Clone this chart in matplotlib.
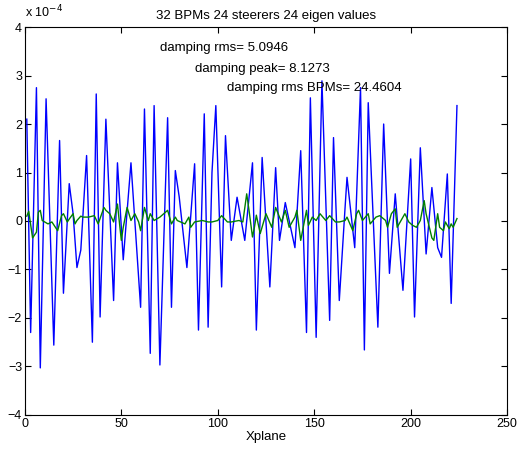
import matplotlib
matplotlib.use('Agg')
import matplotlib.pyplot as plt

plt.rcParams['font.family'] = ['Liberation Sans', 'DejaVu Sans']

# blue trace: BPM index and orbit (units of 1e-4)
blue_x = [1, 3, 6, 8, 11, 15, 18, 20, 23, 25, 27, 29, 32, 35, 37, 39, 42, 46, 48, 51,
          55, 60, 62, 65, 67, 70, 74, 76, 78, 80, 84, 88, 90, 93, 95, 97, 99, 102, 104, 107,
          110, 114, 118, 120, 123, 127, 130, 132, 135, 140, 143, 146, 148, 151, 154, 158, 160, 163, 166, 167,
          171, 174, 176, 178, 183, 186, 189, 192, 196, 200, 202, 205, 208, 211, 214, 216, 219, 221, 224]
blue_y = [2.1, -2.3, 2.75, -3.03, 2.52, -2.56, 1.66, -1.49, 0.77, 0.15, -0.96, -0.6, 1.35, -2.5, 2.62, -1.98, 2.1, -1.64, 1.2, -0.8,
          1.2, -1.78, 2.31, -2.73, 2.38, -2.97, 2.13, -1.78, 1.04, 0.5, -0.96, 1.18, -2.25, 2.21, -2.19, 1.0, 2.38, -1.36, 1.76, -0.4,
          0.49, -0.4, 1.2, -2.25, 1.31, -1.36, 1.1, -0.4, 0.38, -0.55, 1.45, -2.3, 2.54, -2.4, 2.89, -2.05, 1.72, -1.64, 0.28, 0.9,
          -0.55, 2.75, -2.66, 2.44, -2.19, 2.0, -1.08, 0.56, -1.43, 1.28, -1.98, 1.51, -0.68, 0.69, -0.55, -0.75, 0.97, -1.7, 2.38]

# green trace: corrected orbit
green_x = [1, 2, 4, 6, 7, 8, 9, 12, 14, 17, 19, 20, 22, 23, 25, 26, 27, 29, 30, 33,
           36, 38, 41, 42, 44, 46, 48, 50, 51, 53, 55, 57, 59, 60, 62, 64, 65, 67, 70, 74,
           76, 78, 79, 83, 85, 86, 88, 92, 95, 97, 100, 102, 105, 107, 111, 113, 115, 116, 118, 119,
           120, 122, 125, 128, 130, 133, 135, 137, 140, 141, 143, 146, 147, 149, 151, 153, 156, 158, 161, 163,
           166, 167, 170, 172, 173, 175, 178, 179, 182, 184, 187, 188, 190, 192, 193, 195, 197, 199, 201, 203,
           205, 207, 208, 211, 212, 214, 215, 217, 218, 220, 221, 222, 224]
green_y = [0.1, 0.2, -0.35, -0.23, 0.18, 0.22, 0.01, -0.06, -0.02, -0.2, 0.11, 0.15, -0.02, 0.04, 0.15, -0.06, 0.01, 0.1, 0.08, 0.08,
           0.11, -0.06, 0.28, 0.22, 0.15, -0.02, 0.35, -0.4, -0.13, 0.28, 0.01, 0.15, -0.02, -0.2, 0.28, 0.01, 0.15, 0.01, 0.08, 0.22,
           -0.06, 0.08, 0.01, -0.06, 0.08, -0.13, -0.02, 0.01, -0.02, -0.02, 0.01, 0.11, -0.02, -0.02, 0.01, -0.02, 0.56, 0.28, -0.33, -0.13,
           0.12, -0.26, 0.15, -0.13, 0.28, -0.02, 0.22, -0.13, 0.08, 0.22, -0.4, 0.22, -0.09, 0.08, 0.01, 0.15, 0.01, 0.11, -0.02, -0.02,
           0.01, 0.08, -0.2, 0.15, 0.22, 0.01, 0.15, -0.06, 0.08, 0.11, 0.01, -0.13, 0.15, 0.25, -0.13, 0.01, 0.15, -0.02, -0.09, -0.13,
           0.01, 0.42, 0.15, -0.35, -0.4, 0.15, -0.13, -0.2, -0.02, -0.16, -0.06, -0.13, 0.05]

title = '32 BPMs 24 steerers 24 eigen values'
notes = ['damping rms= 5.0946', 'damping peak= 8.1273', 'damping rms BPMs= 24.4604']
note_x = [70, 88, 105]
note_y = [3.57, 3.14, 2.75]

fig = plt.figure(figsize=(5.18, 4.51), dpi=100)
ax = fig.add_axes([0.048, 0.080, 0.931, 0.860])

ax.plot(blue_x, blue_y, color=(0, 0, 1), lw=1.0)
ax.plot(green_x, green_y, color=(0, 0.5, 0), lw=1.0)

ax.set_xlim(0, 250)
ax.set_ylim(-4, 4)
ax.set_xticks(range(0, 251, 50))
ax.set_yticks(range(-4, 5))
ax.tick_params(direction='in', top=True, right=True, length=4, labelsize=9, pad=2)
for s in ax.spines.values():
    s.set_linewidth(0.8)

ax.set_title(title, fontsize=9.5, pad=6)
ax.set_xlabel('Xplane', fontsize=9.5, labelpad=1)
for t, x, y in zip(notes, note_x, note_y):
    ax.text(x, y, t, fontsize=9.5, va='center', ha='left')
fig.text(0.048, 0.955, r'x 10$^{-4}$', fontsize=9, ha='left', va='bottom')

fig.savefig('out.png', dpi=100)
